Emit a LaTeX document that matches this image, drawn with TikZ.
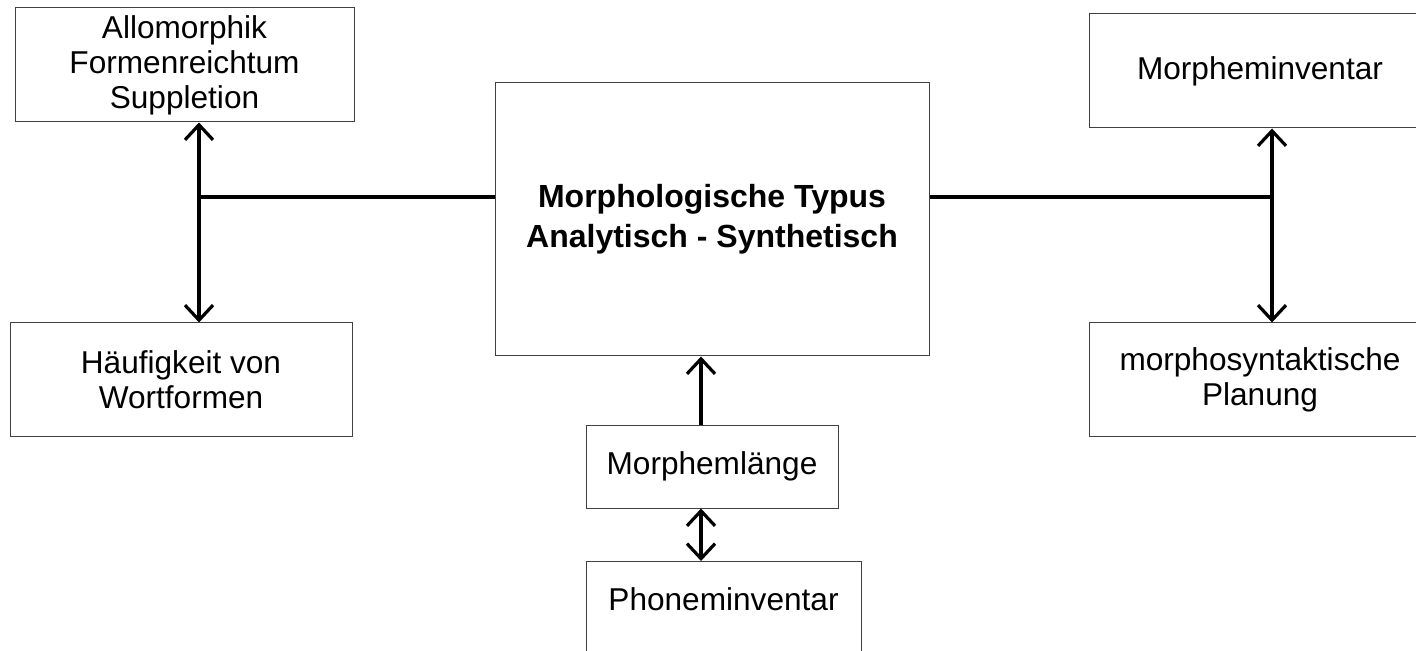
\documentclass[tikz,border=0pt]{standalone}
\usepackage{fontspec}
\setmainfont{Liberation Sans}
\usetikzlibrary{arrows.meta,positioning}

\begin{document}
\begin{tikzpicture}[x=0.5pt, y=-0.5pt, every node/.style={font=\fontsize{15.8}{17.5}\selectfont, align=center}, box/.style={draw=black!75, line width=0.5pt, inner sep=0pt}, barb/.tip={Straight Barb[length=7.5pt, width=14pt, line width=1.6pt]}, conn/.style={line width=1.6pt}, arr/.style={conn, -barb}, dbl/.style={conn, barb-barb}]
	\useasboundingbox (0,0) rectangle (1416,651); \clip (0,0) rectangle (1416,651);
	\node[box, minimum width=169.5pt, minimum height=57pt] (allo) at (184.5,65) {Allomorphik\\Formenreichtum\\Suppletion};
	\node[box, minimum width=171pt, minimum height=56.5pt] (haeuf) at (181,379.5) {Häufigkeit von\\Wortformen};
	\node[box, minimum width=217pt, minimum height=136.5pt, font=\fontsize{16}{17.5}\selectfont\bfseries] (typ) at (712,219.5) {Morphologische Typus\\[2.5pt]Analytisch - Synthetisch};
	\node[box, minimum width=171pt, minimum height=57pt] (minv) at (1260,71) {Morpheminventar};
	\node[box, minimum width=171pt, minimum height=56.5pt] (plan) at (1260,379.5) {morphosyntaktische\\Planung};
	\node[box, minimum width=126pt, minimum height=41.5pt] (mlen) at (712,466.5) {Morphemlänge};
	\node[box, minimum width=137.5pt, text height=24.5pt, text depth=30pt, anchor=north] (phon) at (723.5,561) {Phoneminventar};
	% junctions
	\coordinate (lj) at (199,197); \coordinate (rj) at (1272,197);
	\draw[conn] (lj) -- (lj -| typ.west); \draw[conn] (typ.east |- rj) -- (rj);
	\draw[arr] (lj) -- (lj |- allo.south); \draw[arr] (lj) -- (lj |- haeuf.north);
	\draw[arr] (rj) -- (rj |- minv.south); \draw[arr] (rj) -- (rj |- plan.north);
	\draw[arr] ([xshift=-5.5pt]mlen.north) -- ([xshift=-5.5pt]mlen.north |- typ.south);
	\draw[dbl] ([xshift=-5.5pt]mlen.south) -- ([xshift=-5.5pt]mlen.south |- phon.north);
\end{tikzpicture}
\end{document}
